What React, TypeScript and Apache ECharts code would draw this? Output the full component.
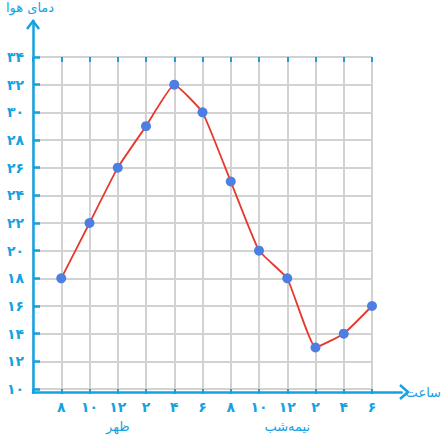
import React, { useEffect, useRef } from "react";
import * as echarts from "echarts";

const xLabels = ["۸", "۱۰", "۱۲", "۲", "۴", "۶", "۸", "۱۰", "۱۲", "۲", "۴", "۶"];
const temps = [18, 22, 26, 29, 32, 30, 25, 20, 18, 13, 14, 16];
const noonIndex = 2;
const midnightIndex = 8;
const noonLabel = "ظهر";
const midnightLabel = "نیمه‌شب";
const yName = "دمای هوا";
const xName = "ساعت";
const yMin = 10;
const yMax = 34;
const yStep = 2;

const faDigits = "۰۱۲۳۴۵۶۷۸۹";
const toFa = (n: number) => String(n).replace(/\d/g, (d) => faDigits[+d]);

const BLUE = "#14a2e2";
const GRID = "#d2d2d2";
const FONT = "DejaVu Sans";

export default function App() {
  const ref = useRef<HTMLDivElement>(null);
  useEffect(() => {
    const chart = echarts.init(ref.current!, undefined, { renderer: "svg" });
    chart.setOption({
      animation: false,
      backgroundColor: "#ffffff",
      textStyle: { fontFamily: FONT },
      grid: [
        { left: 33, right: 72, top: 57, bottom: 44 },
        { left: 33, right: 36, top: 21, bottom: 44 },
      ],
      xAxis: [
        {
          gridIndex: 0,
          type: "value",
          min: -1,
          max: 11,
          interval: 1,
          axisLine: { show: false, onZero: false },
          axisTick: { show: true, inside: false, length: 5, lineStyle: { color: BLUE, width: 2 } },
          splitLine: { show: true, lineStyle: { color: GRID, width: 2 } },
          axisLabel: {
            margin: 9,
            color: BLUE,
            fontSize: 14,
            fontWeight: "bold",
            fontFamily: FONT,
            lineHeight: 18,
            formatter: (v: number) => {
              if (v < 0) return "";
              const l = xLabels[v];
              if (v === noonIndex) return l + "\n{b|" + noonLabel + "}";
              if (v === midnightIndex) return l + "\n{b|" + midnightLabel + "}";
              return l;
            },
            rich: { b: { color: BLUE, fontSize: 13, fontWeight: "normal", fontFamily: FONT, lineHeight: 20 } },
          },
        },
        {
          gridIndex: 0,
          type: "value",
          min: -1,
          max: 11,
          interval: 1,
          axisLine: { show: false, onZero: false },
          axisTick: { show: true, inside: true, length: 5, lineStyle: { color: BLUE, width: 2 } },
          splitLine: { show: false },
          axisLabel: { show: false },
        },
        {
          gridIndex: 1,
          type: "value",
          min: 0,
          max: 1,
          axisLine: { show: true, onZero: false, lineStyle: { color: BLUE, width: 2.5 } },
          axisTick: { show: false },
          splitLine: { show: false },
          axisLabel: { show: false },
          name: xName,
          nameLocation: "end",
          nameGap: 4,
          nameTextStyle: { color: BLUE, fontSize: 13, fontFamily: FONT },
        },
      ],
      yAxis: [
        {
          gridIndex: 0,
          type: "value",
          min: yMin,
          max: yMax,
          interval: yStep,
          axisLine: { show: false, onZero: false },
          axisTick: { show: true, inside: true, length: 7, lineStyle: { color: BLUE, width: 2.5 } },
          splitLine: { show: true, lineStyle: { color: GRID, width: 2 } },
          axisLabel: {
            margin: 9,
            color: BLUE,
            fontSize: 14,
            fontWeight: "bold",
            fontFamily: FONT,
            formatter: (v: number) => toFa(v),
          },
        },
        {
          gridIndex: 1,
          type: "value",
          min: 0,
          max: 1,
          axisLine: { show: true, onZero: false, lineStyle: { color: BLUE, width: 2.5 } },
          axisTick: { show: false },
          splitLine: { show: false },
          axisLabel: { show: false },
          name: yName,
          nameLocation: "end",
          nameGap: 7,
          nameTextStyle: { color: BLUE, fontSize: 13, fontFamily: FONT, align: "center", padding: [0, 0, 0, -6] },
        },
      ],
      graphic: [
        {
          type: "polyline",
          shape: { points: [[27, 29], [33, 21], [39, 29]] },
          style: { stroke: BLUE, lineWidth: 2.5, fill: "none" },
        },
        {
          type: "polyline",
          shape: { points: [[400, 385], [408, 392], [400, 399]] },
          style: { stroke: BLUE, lineWidth: 2.5, fill: "none" },
        },
      ],
      series: [
        {
          type: "line",
          xAxisIndex: 0,
          yAxisIndex: 0,
          data: temps.map((t, i) => [i, t]),
          smooth: 0.12,
          symbol: "circle",
          symbolSize: 10,
          itemStyle: { color: "#4d7fe3" },
          lineStyle: { color: "#e8372c", width: 1.8 },
          z: 5,
        },
      ],
    });
    return () => chart.dispose();
  }, []);
  return <div ref={ref} style={{ position: "fixed", left: 0, top: 0, width: 444, height: 436 }} />;
}
